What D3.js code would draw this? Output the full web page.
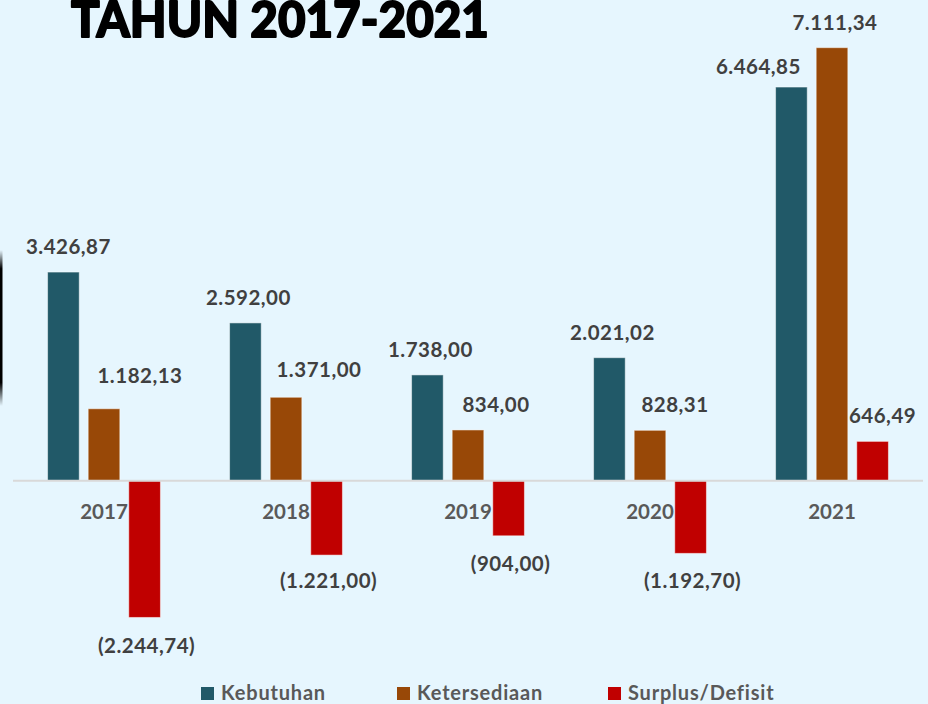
<!DOCTYPE html>
<meta charset="utf-8">
<style>
body { margin: 0; background: #e6f6fe; }
svg { display: block; }
.val { font-family: Lato, "Liberation Sans", sans-serif; font-weight: bold; font-size: 20.5px; fill: #404040; letter-spacing: 0.5px; }
.cat { font-family: Lato, "Liberation Sans", sans-serif; font-weight: bold; font-size: 20.5px; fill: #595959; }
.leg { font-family: Lato, "Liberation Sans", sans-serif; font-weight: bold; font-size: 20px; fill: #595959; letter-spacing: 0.8px; }
</style>
<body>
<script src="https://cdn.jsdelivr.net/npm/d3@7"></script>
<script>

var years = ["2017", "2018", "2019", "2020", "2021"];
var seriesNames = ["Kebutuhan", "Ketersediaan", "Surplus/Defisit"];
var kebutuhan = [3426.87, 2592.00, 1738.00, 2021.02, 6464.85];
var ketersediaan = [1182.13, 1371.00, 834.00, 828.31, 7111.34];
var surplus = [-2244.74, -1221.00, -904.00, -1192.70, 646.49];
var colors = ["#215968", "#984807", "#c00000"];

// hand-placed label nudges (px) as in the original slide
var labelDx = [
  [5, 3, 3, 3, -33],
  [36, 33, 28, 25, 3],
  [2, 2, 2, 2, 10]
];
var labelDy = [
  [-18, -18, -18, -18, -13],
  [-26, -20, -18, -18, -18],
  [36, 33, 35, 35, -18]
];

var width = 928, height = 704;

var svg = d3.select("body").append("svg")
    .attr("width", width)
    .attr("height", height);

svg.append("rect")
    .attr("width", width)
    .attr("height", height)
    .attr("fill", "#e6f6fe");

// black edge of a shape on the left side
var grad = svg.append("defs").append("linearGradient")
    .attr("id", "edge")
    .attr("x1", 0).attr("y1", 0).attr("x2", 0).attr("y2", 1);
grad.append("stop").attr("offset", "0%").attr("stop-color", "#000").attr("stop-opacity", 0);
grad.append("stop").attr("offset", "12%").attr("stop-color", "#000").attr("stop-opacity", 1);
grad.append("stop").attr("offset", "85%").attr("stop-color", "#000").attr("stop-opacity", 1);
grad.append("stop").attr("offset", "100%").attr("stop-color", "#000").attr("stop-opacity", 0);
svg.append("rect")
    .attr("x", 0).attr("y", 250)
    .attr("width", 2.5).attr("height", 156)
    .attr("fill", "url(#edge)");

// title (heavy face imitated with a stroke)
svg.append("text")
    .attr("x", 71)
    .attr("y", 37)
    .attr("textLength", 418)
    .attr("lengthAdjust", "spacingAndGlyphs")
    .style("font-family", "Lato, 'DejaVu Sans', sans-serif")
    .style("font-weight", 900)
    .style("font-size", "50px")
    .style("fill", "#000")
    .style("stroke", "#000")
    .style("stroke-width", 1.8)
    .style("stroke-linejoin", "round")
    .text("TAHUN 2017-2021");

var x0 = d3.scaleBand()
    .domain(years)
    .range([13, 923])
    .paddingInner(0.38)
    .paddingOuter(0.19);

var x1 = d3.scaleBand()
    .domain(seriesNames)
    .range([0, x0.bandwidth()])
    .paddingInner(0.22);

var y = d3.scaleLinear()
    .domain([-2500, 7500])
    .range([633, 24]);

var fmt = function(v) {
  var s = Math.abs(v).toFixed(2).split(".");
  var intPart = s[0].replace(/\B(?=(\d{3})+(?!\d))/g, ".");
  var txt = intPart + "," + s[1];
  return v < 0 ? "(" + txt + ")" : txt;
};

var allSeries = [kebutuhan, ketersediaan, surplus];

var data = [];
years.forEach(function(yr, i) {
  seriesNames.forEach(function(name, j) {
    data.push({year: yr, name: name, value: allSeries[j][i], i: i, j: j});
  });
});

svg.selectAll("rect.bar")
    .data(data)
  .enter().append("rect")
    .attr("class", "bar")
    .attr("x", function(d) { return x0(d.year) + x1(d.name); })
    .attr("y", function(d) { return y(Math.max(0, d.value)); })
    .attr("width", x1.bandwidth())
    .attr("height", function(d) { return Math.abs(y(d.value) - y(0)); })
    .attr("fill", function(d) { return colors[d.j]; })
    .attr("stroke", "#fff")
    .attr("stroke-opacity", 0.5)
    .attr("stroke-width", 1);

// zero line
svg.append("line")
    .attr("x1", x0.range()[0])
    .attr("x2", x0.range()[1])
    .attr("y1", y(0))
    .attr("y2", y(0))
    .attr("stroke", "#d9d9d9")
    .attr("stroke-width", 2);

// category labels
svg.selectAll("text.cat")
    .data(years)
  .enter().append("text")
    .attr("class", "cat")
    .attr("x", function(d) { return x0(d) + x0.bandwidth() / 2; })
    .attr("y", 519)
    .attr("text-anchor", "middle")
    .text(function(d) { return d; });

// value labels
svg.selectAll("text.val")
    .data(data)
  .enter().append("text")
    .attr("class", "val")
    .attr("x", function(d) { return x0(d.year) + x1(d.name) + x1.bandwidth() / 2 + labelDx[d.j][d.i]; })
    .attr("y", function(d) { return y(d.value) + labelDy[d.j][d.i]; })
    .attr("text-anchor", "middle")
    .text(function(d) { return fmt(d.value); });

// legend
var legX = [201, 397, 608];
var leg = svg.selectAll("g.leg")
    .data(seriesNames)
  .enter().append("g")
    .attr("transform", function(d, i) { return "translate(" + legX[i] + ",687)"; });

leg.append("rect")
    .attr("width", 13)
    .attr("height", 13)
    .attr("fill", function(d, i) { return colors[i]; });

leg.append("text")
    .attr("class", "leg")
    .attr("x", 20)
    .attr("y", 13)
    .text(function(d) { return d; });

</script>
</body>
